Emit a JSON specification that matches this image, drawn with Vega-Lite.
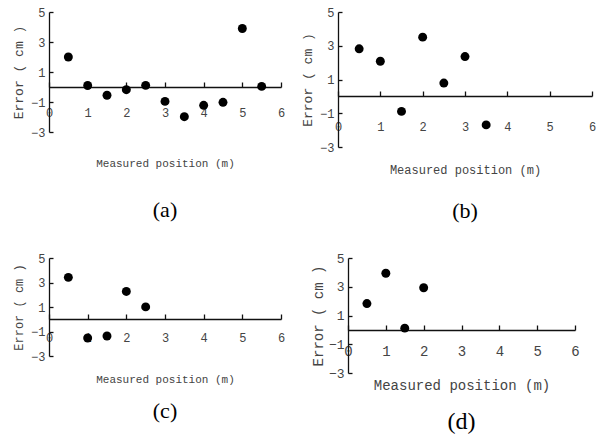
{
  "$schema": "https://vega.github.io/schema/vega-lite/v6.json",
  "padding": {"left": 12, "top": 6, "right": 5, "bottom": 5},
  "background": "white",
  "config": {
    "view": {"stroke": null},
    "axis": {
      "grid": false,
      "labelFont": "Liberation Mono",
      "titleFont": "Liberation Mono",
      "labelColor": "#444",
      "titleColor": "#444",
      "titleFontWeight": "normal",
      "labelFontSize": 12,
      "titleFontSize": 11,
      "domainColor": "#111",
      "tickColor": "#111",
      "domainWidth": 1.3,
      "tickWidth": 1.3
    },
    "axisX": {"tickSize": -5, "labelPadding": 18, "labelFlush": false},
    "axisY": {"tickSize": -4, "labelPadding": 8, "titlePadding": 6},
    "title": {"font": "Liberation Serif", "fontSize": 22, "fontWeight": "normal", "orient": "bottom", "color": "#000"},
    "point": {"filled": true, "color": "#000", "opacity": 1, "size": 80}
  },
  "vconcat": [
    {
      "hconcat": [
        {
          "width": 232, "height": 120,
          "title": {"text": "(a)", "offset": 32},
          "data": {"values": [
            {"pos": 0.5, "err": 2.0}, {"pos": 1, "err": 0.1}, {"pos": 1.5, "err": -0.55},
            {"pos": 2, "err": -0.18}, {"pos": 2.5, "err": 0.11}, {"pos": 3, "err": -0.96},
            {"pos": 3.5, "err": -1.98}, {"pos": 4, "err": -1.22}, {"pos": 4.5, "err": -1.02},
            {"pos": 5, "err": 3.9}, {"pos": 5.5, "err": 0.04}
          ]},
          "mark": "point",
          "encoding": {
            "x": {"field": "pos", "type": "quantitative", "scale": {"domain": [0, 6]}, "axis": {"values": [0, 1, 2, 3, 4, 5, 6], "title": "Measured position (m)", "offset": -45, "labelPadding": 25, "titlePadding": 39}},
            "y": {"field": "err", "type": "quantitative", "scale": {"domain": [-3, 5]}, "axis": {"values": [-3, -1, 1, 3, 5], "title": "Error  ( cm )", "titleFontSize": 13, "titlePadding": 5}}
          }
        },
        {
          "width": 254, "height": 135,
          "title": {"text": "(b)", "offset": 26},
          "data": {"values": [
            {"pos": 0.5, "err": 2.82}, {"pos": 1, "err": 2.08}, {"pos": 1.5, "err": -0.89},
            {"pos": 2, "err": 3.51}, {"pos": 2.5, "err": 0.79}, {"pos": 3, "err": 2.36},
            {"pos": 3.5, "err": -1.69}
          ]},
          "mark": "point",
          "encoding": {
            "x": {"field": "pos", "type": "quantitative", "scale": {"domain": [0, 6]}, "axis": {"values": [0, 1, 2, 3, 4, 5, 6], "title": "Measured position (m)", "offset": -51, "labelPadding": 30, "titlePadding": 32, "titleFontSize": 12}},
            "y": {"field": "err", "type": "quantitative", "scale": {"domain": [-3, 5]}, "axis": {"values": [-3, -1, 1, 3, 5], "title": "Error  ( cm )", "titleFontSize": 13, "titlePadding": 5}}
          }
        }
      ],
      "spacing": 16
    },
    {
      "hconcat": [
        {
          "width": 232, "height": 98,
          "title": {"text": "(c)", "offset": 17},
          "data": {"values": [
            {"pos": 0.5, "err": 3.42}, {"pos": 1, "err": -1.53}, {"pos": 1.5, "err": -1.37},
            {"pos": 2, "err": 2.27}, {"pos": 2.5, "err": 1.01}
          ]},
          "mark": "point",
          "encoding": {
            "x": {"field": "pos", "type": "quantitative", "scale": {"domain": [0, 6]}, "axis": {"values": [0, 1, 2, 3, 4, 5, 6], "title": "Measured position (m)", "offset": -37, "labelPadding": 18, "titlePadding": 30}},
            "y": {"field": "err", "type": "quantitative", "scale": {"domain": [-3, 5]}, "axis": {"values": [-3, -1, 1, 3, 5], "title": "Error  ( cm )", "titleFontSize": 12, "titlePadding": 5}}
          }
        },
        {
          "width": 227, "height": 115,
          "title": {"text": "(d)", "offset": 18, "fontSize": 24},
          "data": {"values": [
            {"pos": 0.5, "err": 1.83}, {"pos": 1, "err": 3.94}, {"pos": 1.5, "err": 0.12},
            {"pos": 2, "err": 2.93}
          ]},
          "mark": "point",
          "encoding": {
            "x": {"field": "pos", "type": "quantitative", "scale": {"domain": [0, 6]}, "axis": {"values": [0, 1, 2, 3, 4, 5, 6], "title": "Measured position (m)", "offset": -43, "labelFontSize": 14, "titleFontSize": 14, "labelPadding": 19, "titlePadding": 20}},
            "y": {"field": "err", "type": "quantitative", "scale": {"domain": [-3, 5]}, "axis": {"values": [-3, -1, 1, 3, 5], "title": "Error  ( cm )", "labelFontSize": 13, "titleFontSize": 14, "titlePadding": 3}}
          }
        }
      ],
      "spacing": 26
    }
  ],
  "spacing": 30
}
